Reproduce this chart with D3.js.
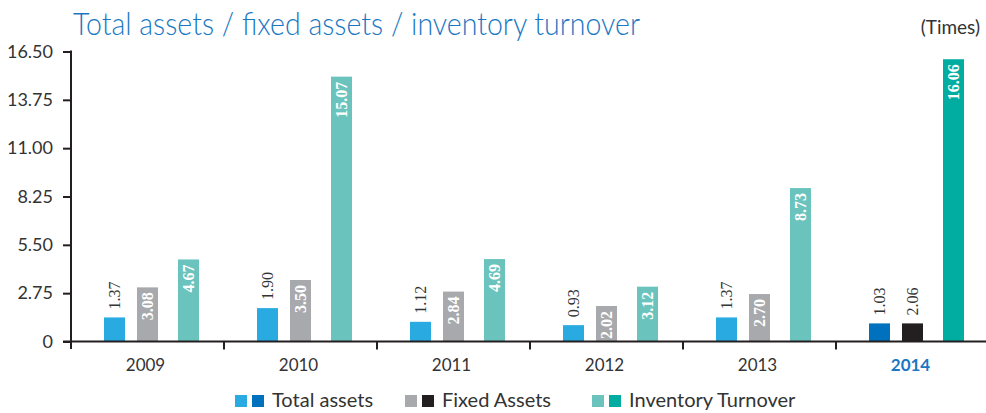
<!DOCTYPE html>
<html><head><meta charset="utf-8">
<script src="https://cdn.jsdelivr.net/npm/d3@7"></script>
<style>body{margin:0;background:#fff}svg{display:block}</style>
</head><body>
<svg id="chart" width="986" height="413"></svg>
<script>
const years = ["2009","2010","2011","2012","2013","2014"];
const totalAssets = [1.37,1.90,1.12,0.93,1.37,1.03];
// bar heights as drawn in the reference (2014 fixed-asset bar is drawn at the 1.03 level)
const fixedAssets = [3.08,3.50,2.84,2.02,2.70,1.03];
const fixedLabels = ["3.08","3.50","2.84","2.02","2.70","2.06"];
const inventoryTurnover = [4.67,15.07,4.69,3.12,8.73,16.06];
const yTicks = [0,2.75,5.5,8.25,11,13.75,16.5];
const seriesNames = ["Total assets","Fixed Assets","Inventory Turnover"];
const baseColors = ["#29abe2","#a7a9ac","#6ac4bd"];
const hiColors = ["#0071bc","#231f20","#00ada0"];
const highlightYear = "2014";

const svg = d3.select("#chart");
const sans = "Lato, 'Open Sans', sans-serif";
const serif = "'Liberation Serif', 'DejaVu Serif', serif";

const x = d3.scaleBand().domain(years).range([71, 989]);
const sub = d3.scaleOrdinal().domain(seriesNames).range([33, 66, 107]);
const barW = 21;
const y = d3.scaleLinear().domain([0, 16.5]).range([341.5, 51.5]);

// title
svg.append("text").attr("x", 73).attr("y", 35)
  .attr("font-family", sans).attr("font-size", 32).attr("font-weight", 300).attr("fill", "#1a78c2")
  .attr("textLength", 567).attr("lengthAdjust", "spacingAndGlyphs")
  .text("Total assets / fixed assets / inventory turnover");
svg.append("text").attr("x", 980).attr("y", 34).attr("text-anchor", "end")
  .attr("font-family", sans).attr("font-size", 19).attr("fill", "#333")
  .text("(Times)");

// y axis
const yAxis = svg.append("g").attr("transform", "translate(71,0)")
  .call(d3.axisLeft(y).tickValues(yTicks).tickSize(8).tickSizeOuter(0).tickPadding(10)
    .tickFormat(d => d === 0 ? "0" : d3.format(".2f")(d)));
yAxis.select(".domain").remove();
yAxis.selectAll(".tick line").attr("stroke", "#231f20").attr("stroke-width", 2);
yAxis.selectAll(".tick text").attr("font-family", sans).attr("font-size", 18).attr("fill", "#333");
svg.append("line").attr("x1", 71).attr("x2", 71).attr("y1", y(16.5) - 1).attr("y2", 349)
  .attr("stroke", "#231f20").attr("stroke-width", 2);

// data table
const rows = years.map((yr, i) => ({
  year: yr,
  vals: [
    {s: 0, v: totalAssets[i], label: d3.format(".2f")(totalAssets[i])},
    {s: 1, v: fixedAssets[i], label: fixedLabels[i]},
    {s: 2, v: inventoryTurnover[i], label: d3.format(".2f")(inventoryTurnover[i])}
  ]
}));

const g = svg.selectAll("g.year").data(rows).join("g").attr("class", "year")
  .attr("transform", d => `translate(${x(d.year)},0)`);
g.each(function(row) {
  const gg = d3.select(this);
  row.vals.forEach(d => {
    const bx = sub(seriesNames[d.s]);
    const top = y(d.v);
    const h = y(0) - top;
    const col = row.year === highlightYear ? hiColors[d.s] : baseColors[d.s];
    gg.append("rect").attr("x", bx).attr("y", top).attr("width", barW).attr("height", h).attr("fill", col);
    const inside = d.s > 0 && h > 32;
    const cx = bx + barW / 2 + 5.5;
    if (inside) {
      gg.append("text").attr("transform", `translate(${cx},${top + 5}) rotate(-90)`)
        .attr("text-anchor", "end").attr("font-family", serif).attr("font-weight", "bold")
        .attr("font-size", 16).attr("fill", "#fff").text(d.label);
    } else {
      gg.append("text").attr("transform", `translate(${cx},${top - 8}) rotate(-90)`)
        .attr("text-anchor", "start").attr("font-family", serif)
        .attr("font-size", 16).attr("fill", "#333").text(d.label);
    }
  });
});

// x axis
svg.append("line").attr("x1", 63).attr("x2", 986).attr("y1", y(0)).attr("y2", y(0))
  .attr("stroke", "#231f20").attr("stroke-width", 2);
svg.selectAll("line.sep").data(years.slice(0, -1)).join("line").attr("class", "sep")
  .attr("x1", d => x(d) + x.bandwidth()).attr("x2", d => x(d) + x.bandwidth())
  .attr("y1", y(0)).attr("y2", y(0) + 8).attr("stroke", "#231f20").attr("stroke-width", 2);
svg.selectAll("text.xl").data(years).join("text").attr("class", "xl")
  .attr("x", d => x(d) + x.bandwidth() / 2 - 2).attr("y", 371).attr("text-anchor", "middle")
  .attr("font-family", sans).attr("font-size", 17)
  .attr("font-weight", d => d === highlightYear ? "bold" : "normal")
  .attr("fill", d => d === highlightYear ? "#1a78c2" : "#333").text(d => d);

// legend
const legX = [235, 405, 592];
seriesNames.forEach((name, i) => {
  const lg = svg.append("g").attr("transform", `translate(${legX[i]},395)`);
  lg.append("rect").attr("x", 0).attr("y", 0).attr("width", 12).attr("height", 12).attr("fill", baseColors[i]);
  lg.append("rect").attr("x", 17).attr("y", 0).attr("width", 12).attr("height", 12).attr("fill", hiColors[i]);
  lg.append("text").attr("x", 37).attr("y", 12).attr("font-family", sans).attr("font-size", 20)
    .attr("fill", "#333").text(name);
});
</script>
</body></html>
